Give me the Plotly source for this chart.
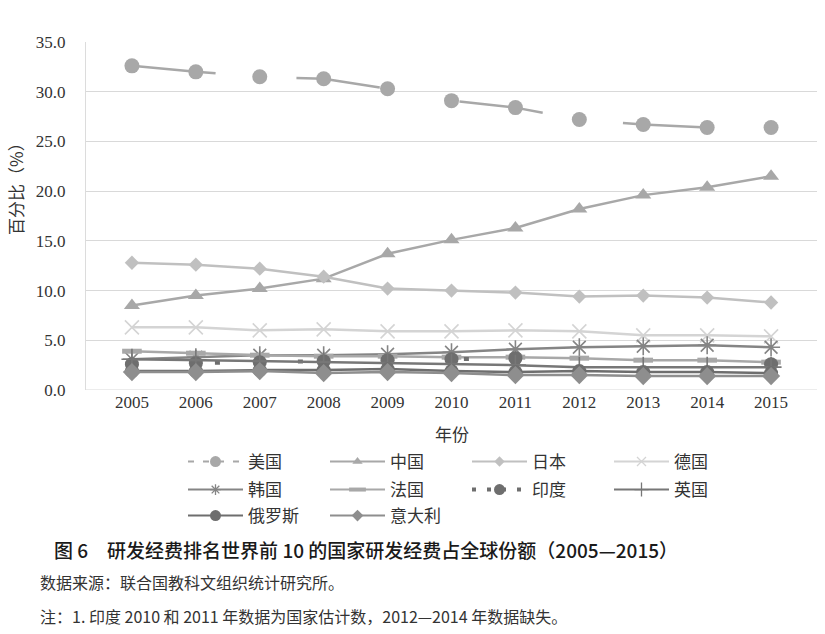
import plotly.graph_objects as go

years = ["2005", "2006", "2007", "2008", "2009", "2010", "2011", "2012", "2013", "2014", "2015"]
us      = [32.6, 32.0, 31.5, 31.3, 30.3, 29.1, 28.4, 27.2, 26.7, 26.4, 26.4]
china   = [8.5, 9.5, 10.2, 11.2, 13.7, 15.1, 16.3, 18.2, 19.6, 20.4, 21.5]
japan   = [12.8, 12.6, 12.2, 11.4, 10.2, 10.0, 9.8, 9.4, 9.5, 9.3, 8.8]
germany = [6.3, 6.3, 6.0, 6.1, 5.9, 5.9, 6.0, 5.9, 5.5, 5.5, 5.4]
korea   = [3.1, 3.3, 3.5, 3.5, 3.6, 3.8, 4.1, 4.3, 4.4, 4.5, 4.3]
france  = [3.9, 3.7, 3.5, 3.4, 3.4, 3.3, 3.3, 3.2, 3.0, 3.0, 2.8]
india   = [2.6, 2.7, 2.8, 2.9, 3.0, 3.1, 3.2, None, None, None, 2.6]
uk      = [3.1, 3.0, 2.9, 2.8, 2.7, 2.6, 2.5, 2.3, 2.3, 2.3, 2.3]
russia  = [1.9, 1.9, 2.0, 2.0, 2.1, 1.9, 1.8, 1.9, 1.8, 1.8, 1.7]
italy   = [1.8, 1.8, 1.9, 1.7, 1.8, 1.7, 1.5, 1.5, 1.4, 1.4, 1.4]
yticks = [0, 5, 10, 15, 20, 25, 30, 35]

CJK = "Noto Sans CJK SC"
SERIF = "Liberation Serif"

fig = go.Figure()

def add(name, vals, color, symbol, size, legend, dash="solid", mline=None, width=2.5,
        lsize=8, ldash=None, lwidth=None, lmline=1.3):
    marker = dict(symbol=symbol, size=size, color=color)
    lmarker = dict(symbol=symbol, size=lsize, color=color)
    if mline is not None:
        marker["line"] = dict(color=color, width=mline)
        lmarker["line"] = dict(color=color, width=lmline)
    fig.add_trace(go.Scatter(
        x=years, y=vals, name=name, mode="lines+markers",
        line=dict(color=color, width=width, dash=dash),
        marker=marker, connectgaps=False, showlegend=False,
    ))
    # legend proxy with a smaller marker, like the reference key
    fig.add_trace(go.Scatter(
        x=[None], y=[None], name=name, mode="lines+markers",
        line=dict(color=color, width=lwidth or 2, dash=ldash or dash),
        marker=lmarker, showlegend=True, legend=legend,
    ))

add("美国", us, "#a8a8a8", "circle", 15, "legend", dash="84px,81px",
    lsize=11, ldash="6px,9px")
add("中国", china, "#a8a8a8", "triangle-up", 14, "legend", lsize=9)
add("日本", japan, "#c0c0c0", "diamond", 11, "legend", lsize=8)
add("德国", germany, "#d4d4d4", "x-thin-open", 14, "legend", mline=1.6, lsize=9)
add("韩国", korea, "#858585", "asterisk-open", 15, "legend2", mline=1.6, lsize=9)
add("法国", france, "#a8a8a8", "line-ew-open", 14, "legend2", mline=5, lsize=12, lmline=4)
add("印度", india, "#6e6e6e", "circle", 14, "legend2", dash="5px,78px", width=4,
    lsize=11, ldash="4px,11px", lwidth=4)
add("英国", uk, "#777777", "cross-thin-open", 15, "legend2", mline=1.6, lsize=10)
add("俄罗斯", russia, "#6e6e6e", "circle", 14, "legend3", lsize=11)
add("意大利", italy, "#8e8e8e", "diamond", 14, "legend3", lsize=9)

W0, W1 = 86, 817
Y0, Y1 = 390, 42
pw, ph = W1 - W0, Y0 - Y1

def px(x):
    return (x - W0) / pw

def py(y):
    return (Y0 - y) / ph

def leg(top):
    return dict(
        orientation="h", x=px(183), y=py(top), xanchor="left", yanchor="top",
        font=dict(family=CJK, size=17, color="#333333"),
        itemwidth=55, entrywidth=72, entrywidthmode="pixels",
        tracegroupgap=0, bgcolor="rgba(0,0,0,0)",
    )

fig.update_layout(
    width=825, height=634,
    margin=dict(l=W0, r=825 - W1, t=Y1, b=634 - Y0, autoexpand=False),
    plot_bgcolor="white", paper_bgcolor="white",
    showlegend=True,
    legend=leg(444), legend2=leg(472), legend3=leg(498),
    xaxis=dict(
        type="category", showgrid=False, showline=False, ticks="",
        tickfont=dict(family=SERIF, size=17, color="#333333"),
    ),
    yaxis=dict(
        range=[0, 35], tickvals=yticks, tickformat=".1f",
        showgrid=True, gridcolor="#d9d9d9", gridwidth=1,
        zeroline=False, showline=True, linecolor="#dcdcdc", linewidth=1,
        ticks="", ticklabelstandoff=16,
        tickfont=dict(family=SERIF, size=17, color="#333333"),
    ),
    annotations=[
        dict(text="百分比（%）", x=px(15), y=py(185), xref="paper", yref="paper",
             xanchor="center", yanchor="middle",
             textangle=-90, showarrow=False, font=dict(family=CJK, size=17, color="#333333")),
        dict(text="年份", x=px(452), y=py(433), xref="paper", yref="paper",
             xanchor="center", yanchor="middle",
             showarrow=False, font=dict(family=CJK, size=17, color="#333333")),
        dict(text="图 6　研发经费排名世界前 10 的国家研发经费占全球份额（2005—2015）",
             x=px(52), y=py(549), xref="paper", yref="paper", xanchor="left", yanchor="middle",
             showarrow=False, font=dict(family=CJK, size=19, color="#1a1a1a", weight=500)),
        dict(text="数据来源：联合国教科文组织统计研究所。",
             x=px(38), y=py(582), xref="paper", yref="paper", xanchor="left", yanchor="middle",
             showarrow=False, font=dict(family=CJK, size=16, color="#333333")),
        dict(text="注：1. 印度 2010 和 2011 年数据为国家估计数，2012—2014 年数据缺失。",
             x=px(38), y=py(616), xref="paper", yref="paper", xanchor="left", yanchor="middle",
             showarrow=False, font=dict(family=CJK, size=16, color="#333333")),
    ],
)
fig.add_hline(y=0, line=dict(color="#d9d9d9", width=1))

fig.write_html("out.html")
